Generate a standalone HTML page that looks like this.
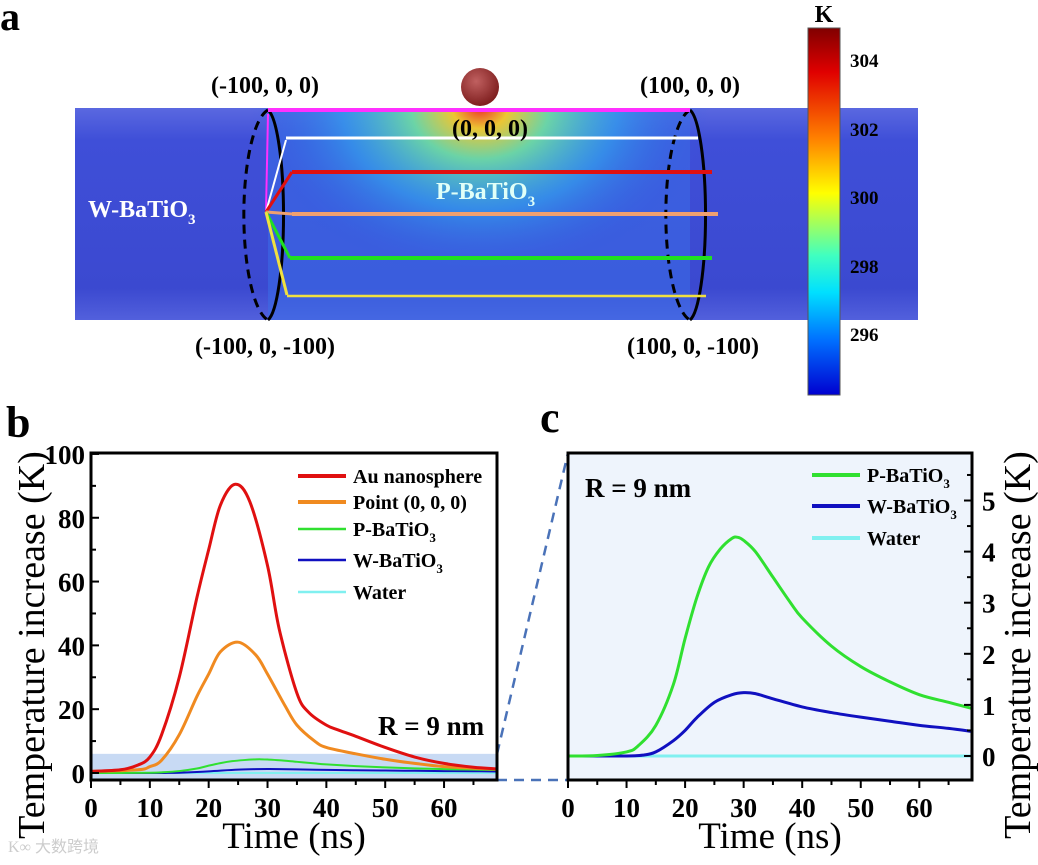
<!DOCTYPE html>
<html><head><meta charset="utf-8"><style>
body{margin:0;background:#fff}
svg text{font-family:"Liberation Serif",serif}
.b{font-weight:bold}
</style></head><body>
<svg id="fig" width="1038" height="860" viewBox="0 0 1038 860" xmlns="http://www.w3.org/2000/svg">
<defs>
<linearGradient id="jet" x1="0" y1="0" x2="0" y2="1">
<stop offset="0" stop-color="#800000"/><stop offset="0.12" stop-color="#e00000"/><stop offset="0.3" stop-color="#ff8000"/><stop offset="0.45" stop-color="#ffff00"/><stop offset="0.62" stop-color="#40ffc0"/><stop offset="0.72" stop-color="#00e0ff"/><stop offset="0.85" stop-color="#0070ff"/><stop offset="1" stop-color="#0000d0"/>
</linearGradient>
<linearGradient id="band" x1="0" y1="0" x2="0" y2="1">
<stop offset="0" stop-color="#5a68e0"/><stop offset="0.15" stop-color="#3f4fd8"/><stop offset="0.85" stop-color="#3b49d0"/><stop offset="1" stop-color="#5260dc"/>
</linearGradient>
<radialGradient id="heat" cx="0.5" cy="0.5" r="0.5">
<stop offset="0" stop-color="#ff3010"/><stop offset="0.12" stop-color="#ffd020"/><stop offset="0.3" stop-color="#70e0a0"/><stop offset="0.6" stop-color="#30b0f0" stop-opacity="0.6"/><stop offset="1" stop-color="#3050e0" stop-opacity="0"/>
</radialGradient>
<radialGradient id="ball" cx="0.4" cy="0.35" r="0.7">
<stop offset="0" stop-color="#c06060"/><stop offset="1" stop-color="#7a1a1a"/>
</radialGradient>
</defs>

<g>
<text x="0" y="30" font-size="40" class="b">a</text>
<rect x="75" y="108" width="843" height="212" fill="url(#band)"/>
<rect x="268" y="108" width="422" height="212" fill="#3a6ee8" opacity="0.55"/>
<ellipse cx="480" cy="108" rx="230" ry="170" fill="url(#heat)" opacity="0.9"/>
<rect x="75" y="0" width="843" height="108" fill="#fff"/>
<circle cx="480" cy="87" r="19" fill="url(#ball)"/>
<path d="M268,110 A18,106 0 0 1 268,320" fill="none" stroke="#000" stroke-width="3"/>
<path d="M268,110 A28,106 0 0 0 268,320" fill="none" stroke="#000" stroke-width="3" stroke-dasharray="9,6"/>
<path d="M690,110 A18,106 0 0 1 690,320" fill="none" stroke="#000" stroke-width="3"/>
<path d="M690,110 A28,106 0 0 0 690,320" fill="none" stroke="#000" stroke-width="3" stroke-dasharray="9,6"/>
<line x1="268" y1="110" x2="690" y2="110" stroke="#ff30ff" stroke-width="4"/>
<line x1="286" y1="138" x2="698" y2="138" stroke="#fff" stroke-width="3"/>
<line x1="292" y1="172" x2="712" y2="172" stroke="#e01010" stroke-width="4"/>
<line x1="292" y1="214" x2="718" y2="214" stroke="#f0a070" stroke-width="4"/>
<line x1="290" y1="258" x2="712" y2="258" stroke="#20e020" stroke-width="4"/>
<line x1="287" y1="296" x2="706" y2="296" stroke="#f0e040" stroke-width="2.5"/>
<g stroke-width="2">
<line x1="266" y1="212" x2="268" y2="114" stroke="#ff30ff"/>
<line x1="266" y1="212" x2="286" y2="140" stroke="#fff"/>
<line x1="266" y1="212" x2="292" y2="172" stroke="#e01010" stroke-width="3"/>
<line x1="266" y1="212" x2="292" y2="214" stroke="#f0a070" stroke-width="3"/>
<line x1="266" y1="212" x2="290" y2="258" stroke="#20e020" stroke-width="3"/>
<line x1="266" y1="212" x2="287" y2="295" stroke="#f0e040" stroke-width="3"/>
</g>
<text x="265" y="93" font-size="24" class="b" text-anchor="middle">(-100, 0, 0)</text>
<text x="690" y="93" font-size="24" class="b" text-anchor="middle">(100, 0, 0)</text>
<text x="490" y="136" font-size="24" class="b" text-anchor="middle">(0, 0, 0)</text>
<text x="265" y="354" font-size="24" class="b" text-anchor="middle">(-100, 0, -100)</text>
<text x="693" y="354" font-size="24" class="b" text-anchor="middle">(100, 0, -100)</text>
<text x="88" y="217" font-size="24" class="b" fill="#fff">W-BaTiO<tspan font-size="15" dy="7">3</tspan></text>
<text x="436" y="199" font-size="24" class="b" fill="#e0fff8">P-BaTiO<tspan font-size="15" dy="7">3</tspan></text>
<rect x="808" y="28" width="32" height="367" fill="url(#jet)" stroke="#555"/>
<text x="824" y="22" font-size="24" class="b" text-anchor="middle">K</text>
<g font-size="19" class="b">
<text x="850" y="67">304</text><text x="850" y="136">302</text><text x="850" y="204">300</text><text x="850" y="273">298</text><text x="850" y="341">296</text>
</g>
</g>

<text x="6" y="437" font-size="44" class="b">b</text>
<text x="540" y="432" font-size="44" class="b">c</text>

<line x1="497" y1="754" x2="568" y2="453" stroke="#4a72b8" stroke-width="2.5" stroke-dasharray="10,7"/>
<line x1="497" y1="780" x2="568" y2="780" stroke="#4a72b8" stroke-width="2.5" stroke-dasharray="10,7"/>

<g id="pb"></g>
<g id="pc"></g>

<text x="8" y="852" font-size="16" fill="#ccc" font-family="Noto Sans CJK SC, sans-serif">K∞ 大数跨境</text>
</svg>
<script>
const times = [0,5,8,10,12,15,18,20,22,24.5,27,30,32,35,37,40,42,45,50,55,60,65,69];
const auVals = [0.5,1,2.5,5,12,30,55,70,84,90.5,85,65,45,25,19,15,13.5,11.5,8,5,3,1.8,1.3];
const ptTimes = [0,8,10,12,15,18,20,22,25,28,30,33,35,38,40,45,50,55,60,65,69];
const ptVals = [0.5,1,2,4,12,24,31,38,41,37,31,21,15,10,8,6,4.3,3,2,1.5,1.2];
const pTimes = [0,5,10,12,15,18,20,22,24,26,28,29,30,32,35,38,40,45,50,55,60,65,69];
const pVals = [0,0.01,0.08,0.2,0.6,1.4,2.3,3.1,3.7,4.05,4.26,4.28,4.22,4.0,3.5,3.0,2.7,2.15,1.75,1.45,1.2,1.05,0.93];
const wTimes = [0,10,13,15,18,20,22,25,28,30,32,35,40,45,50,55,60,65,69];
const wVals = [0,0,0.02,0.08,0.3,0.5,0.75,1.05,1.2,1.24,1.22,1.12,0.96,0.85,0.76,0.68,0.6,0.54,0.48];
const waterTimes = [0,69];
const waterVals = [0,0];
const xTicks = [0,10,20,30,40,50,60];
const bYTicks = [0,20,40,60,80,100];
const cYTicks = [0,1,2,3,4,5];

const NS='http://www.w3.org/2000/svg';
function mk(tag,attrs,parent){const e=document.createElementNS(NS,tag);for(const k in attrs)e.setAttribute(k,attrs[k]);parent.appendChild(e);return e;}
function smooth(pts){let d='M'+pts[0][0]+','+pts[0][1];for(let i=0;i<pts.length-1;i++){const p0=pts[i-1]||pts[i],p1=pts[i],p2=pts[i+1],p3=pts[i+2]||p2;d+=' C'+(p1[0]+(p2[0]-p0[0])/6)+','+(p1[1]+(p2[1]-p0[1])/6)+' '+(p2[0]-(p3[0]-p1[0])/6)+','+(p2[1]-(p3[1]-p1[1])/6)+' '+p2[0]+','+p2[1];}return d;}

function chart(g,cfg){
  const L=cfg.L,R=cfg.R,T=cfg.T,B=cfg.B;
  const sx=v=>L+(v-0)/(69-0)*(R-L);
  const sy=v=>B-(v-cfg.ymin)/(cfg.ymax-cfg.ymin)*(B-T);
  if(cfg.bg){const r=mk('rect',{x:L,y:T,width:R-L,height:B-T,fill:cfg.bg},g);}
  if(cfg.hl){const r=mk('rect',{x:L,y:sy(cfg.hl),width:R-L,height:B-sy(cfg.hl),fill:'#c8daf4'},g);}
  cfg.series.forEach(s=>{
    const pts=s.t.map((t,i)=>[sx(t),sy(s.v[i])]);
    const p=mk('path',{d:smooth(pts),fill:'none',stroke:s.c,'stroke-width':s.w,'stroke-linejoin':'round'},g);
    
    
  });
  const fr=mk('rect',{x:L,y:T,width:R-L,height:B-T,fill:'none',stroke:'#000','stroke-width':3},g);
  
  
  for(let v=0;v<=65;v+=5){const x=sx(v);mk('line',{x1:x,y1:B,x2:x,y2:B+(v%10?5:8),stroke:'#000','stroke-width':2},g);}
  xTicks.forEach(v=>{const t=mk('text',{x:sx(v),y:B+37,'font-size':27,'font-weight':'bold','text-anchor':'middle'},g);t.textContent=v;});
  const yt=cfg.yticks,step=yt[1]-yt[0];
  for(let v=yt[0];v<=cfg.ymax;v+=step/2){const y=sy(v);const ax=cfg.right?R:L;const dir=cfg.right?-1:1;const len=(Math.round(v/step*2)%2)?5:8;mk('line',{x1:ax,y1:y,x2:ax+dir*len,y2:y,stroke:'#000','stroke-width':2},g);}
  yt.forEach(v=>{const t=mk('text',{x:cfg.right?R+10:L-6,y:sy(v)+10,'font-size':27,'font-weight':'bold','text-anchor':cfg.right?'start':'end'},g);t.textContent=v;});
  const xt=mk('text',{x:(L+R)/2,y:848,'font-size':37,'text-anchor':'middle'},g);xt.textContent='Time (ns)';
  
  
  const yx=cfg.right?1030:44;
  const ytt=mk('text',{x:yx,y:645,'font-size':38,'text-anchor':'middle',transform:'rotate(-90 '+yx+' 645)'},g);ytt.textContent='Temperature increase (K)';
  
  
  cfg.legend.forEach((e,i)=>{
    const y=e.y;mk('line',{x1:cfg.lx,y1:y,x2:cfg.lx+48,y2:y,stroke:e.c,'stroke-width':e.w},g);
    const t=mk('text',{x:cfg.lx+55,y:y+7,'font-size':20,'font-weight':'bold'},g);
    
    
    t.textContent=e.label;
    if(e.sub){const s=mk('tspan',{'font-size':13,dy:6},t);s.textContent=e.sub;}
  });
  const rl=mk('text',{x:cfg.rx,y:cfg.ry,'font-size':27,'font-weight':'bold'},g);rl.textContent='R = 9 nm';
  
  
}
chart(document.getElementById('pb'),{L:91,R:497,T:453,B:780,ymin:-2.2,ymax:100.3,yticks:bYTicks,hl:6,
 series:[{t:waterTimes,v:waterVals,c:'#80f0f0',w:2,name:'water-line'},{t:wTimes,v:wVals,c:'#1010c0',w:2,name:'w-batio3-line'},{t:pTimes,v:pVals,c:'#30e030',w:2,name:'p-batio3-line'},{t:ptTimes,v:ptVals,c:'#f08a20',w:3,name:'point-origin-line'},{t:times,v:auVals,c:'#e01010',w:3,name:'au-nanosphere-line'}],
 lx:298,legend:[{y:476,c:'#e01010',w:4,label:'Au nanosphere'},{y:502,c:'#f08a20',w:4,label:'Point (0, 0, 0)'},{y:529,c:'#30e030',w:2.5,label:'P-BaTiO',sub:'3'},{y:560,c:'#1010c0',w:2.5,label:'W-BaTiO',sub:'3'},{y:592,c:'#80f0f0',w:2.5,label:'Water'}],
 rx:378,ry:735});
chart(document.getElementById('pc'),{L:568,R:972,T:453,B:780,ymin:-0.47,ymax:5.93,yticks:cYTicks,right:true,bg:'#eef4fc',
 series:[{t:waterTimes,v:waterVals,c:'#80f0f0',w:3,name:'water-line'},{t:wTimes,v:wVals,c:'#1010c0',w:3,name:'w-batio3-line'},{t:pTimes,v:pVals,c:'#30e030',w:3,name:'p-batio3-line'}],
 lx:812,legend:[{y:475,c:'#30e030',w:4,label:'P-BaTiO',sub:'3'},{y:506,c:'#1010c0',w:4,label:'W-BaTiO',sub:'3'},{y:538,c:'#80f0f0',w:4,label:'Water'}],
 rx:585,ry:497});
</script>
</body></html>
